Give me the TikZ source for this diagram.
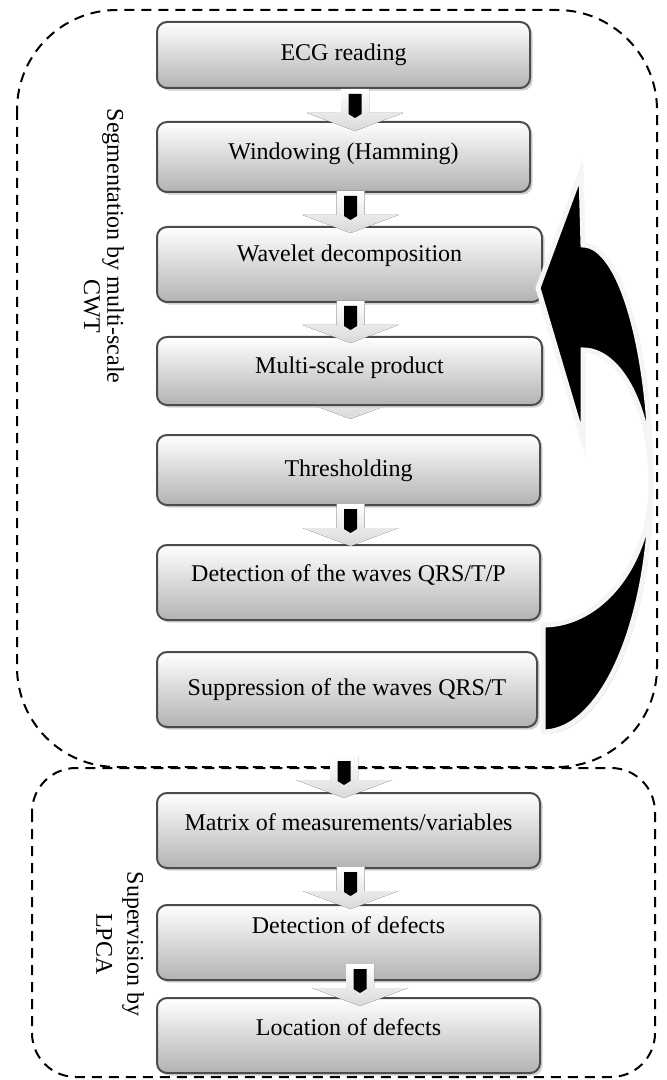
\documentclass[tikz,border=0pt]{standalone}
\usepackage{fontspec}
\setmainfont{Liberation Serif}
\usetikzlibrary{calc,shadows,backgrounds}

\begin{document}
\begin{tikzpicture}[x=0.5pt,y=-0.5pt,
		stage/.style={draw=gray!60!black, line width=1pt, rounded corners=5pt,
			top color=white, bottom color=gray!60, inner sep=0pt,
			text height=9pt, text depth=3pt, font=\fontsize{12}{14}\selectfont,
			drop shadow={shadow xshift=1.3pt, shadow yshift=-1.3pt, fill=gray!35, opacity=1}},
		grp/.style={draw, dash pattern=on 5pt off 3.5pt, line width=1pt},
		lab/.style={rotate=-90, align=center, font=\fontsize{12}{15.5}\selectfont},
		loopback/.style={fill=black, draw=gray!8, line width=2.5pt,
			drop shadow={shadow xshift=1pt, shadow yshift=-1pt, fill=gray!45, opacity=1}},
		flowarrow/.pic={
			\fill[top color=white, bottom color=gray!30] (-14,0) -- (14,0) -- (14,24) -- (48,24) -- (0,42) -- (-48,24) -- (-14,24) -- cycle;
			\fill[black] (-6.5,5) -- (6.5,5) -- (6.5,25) -- (0,29) -- (-6.5,25) -- cycle;
		}
		]
		\useasboundingbox (0,0) rectangle (667,1080);
		\draw[grp] (17,10) [rounded corners=50pt] rectangle (657,767);
		\draw[grp] (32,768) [rounded corners=22pt] rectangle (655,1077);
		\node[stage, minimum width=186.5pt, minimum height=33pt] (ecg) at (343.5,55) {ECG reading};
		\node[stage, minimum width=186.5pt, minimum height=35pt, text depth=6pt] (win) at (343.5,157) {Windowing (Hamming)};
		\node[stage, minimum width=192.5pt, minimum height=37.5pt, text depth=12pt] (wav) at (349.5,264.5) {Wavelet decomposition};
		\node[stage, minimum width=192.5pt, minimum height=34pt, text depth=7pt] (msp) at (349.5,371) {Multi-scale product};
		\node[stage, minimum width=191.5pt, minimum height=35pt] (thr) at (348.5,470) {Thresholding};
		\node[stage, minimum width=191.5pt, minimum height=37.5pt, text depth=10pt] (det) at (348.5,582.5) {Detection of the waves QRS/T/P};
		\node[stage, minimum width=190pt, minimum height=37.5pt] (sup) at (347,689.5) {Suppression of the waves QRS/T};
		\node[stage, minimum width=191.5pt, minimum height=37.5pt, text depth=9pt] (mat) at (348.5,830.5) {Matrix of measurements/variables};
		\node[stage, minimum width=191.5pt, minimum height=37.5pt, text depth=18pt] (dfc) at (348.5,942.5) {Detection of defects};
		\node[stage, minimum width=191.5pt, minimum height=37.5pt, text depth=9pt] (loc) at (348.5,1035.5) {Location of defects};
		\node[lab] (seglab) at (113,246) {Segmentation by multi-scale};
		\node[lab] (cwtlab) at (92,306) {CWT};
		\node[lab] (suplab) at (120,944) {Supervision by\\LPCA};
		\draw[loopback] (543,625) arc[start angle=90, end angle=0, x radius=108, y radius=142]
			arc[start angle=0, end angle=90, x radius=108, y radius=249] -- cycle;
		\draw[loopback] (538,288) -- (581,172) -- (583,245)
			arc[start angle=-90, end angle=0, x radius=68, y radius=238]
			arc[start angle=0, end angle=-90, x radius=68, y radius=133] -- (583,440) -- cycle;
		\pic at ($(ecg.south)+(11.5,0)$) {flowarrow};
		\pic at ($(win.south)+(7,-2)$) {flowarrow};
		\pic at ($(wav.south)+(1,-2)$) {flowarrow};
		\begin{scope}[on background layer]
			\pic at ($(msp.south)+(1,-29)$) {flowarrow};
		\end{scope}
		\pic at ($(thr.south)+(2,-2)$) {flowarrow};
		\pic at ($(sup.south)+(-3,28)$) {flowarrow};
		\pic at ($(mat.south)+(2,-2)$) {flowarrow};
		\pic at ($(dfc.south)+(11.5,-17)$) {flowarrow};
	\end{tikzpicture}
\end{document}
